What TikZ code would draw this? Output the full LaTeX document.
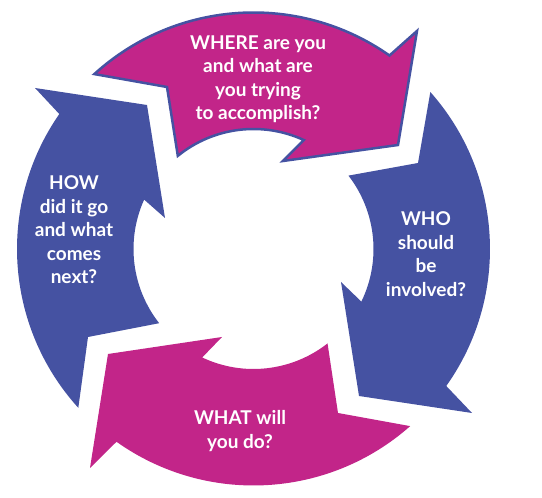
\documentclass[tikz,border=0pt]{standalone}
\usepackage{fontspec}
\setmainfont{Lato}
\usepackage{tikz}
\definecolor{loopM}{RGB}{194,37,137}
\definecolor{loopB}{RGB}{69,82,162}

\begin{document}
\begin{tikzpicture}[x=1pt, y=1pt, font=\fontsize{19}{23.5}\selectfont\bfseries,
    qtext/.style={text=white, align=center, inner sep=0pt}]
  \useasboundingbox (0,0) rectangle (542,498);
  \begin{scope}[shift={(253.5,249)}]
  % top band, outlined
  \filldraw[fill=loopM, draw=loopB, line width=2.5pt]
    (132.3:236.5) -- (-86.5,162) -- (129.1:120)
    arc[start angle=129.1, end angle=65.2, radius=120]
    -- (29.5,88) -- (144.5,104) -- (163.5,218) -- (54.9:236.5)
    arc[start angle=54.9, end angle=132.3, radius=236.5] -- cycle;
  % right band
  \fill[loopB]
    (41.6:236.5) -- (164.5,86) -- (37.7:120)
    arc[start angle=37.7, end angle=-26, radius=120]
    -- (87.5,-33) -- (105.5,-147) -- (218.5,-164) -- (-35.4:236.5)
    arc[start angle=-35.4, end angle=41.6, radius=236.5] -- cycle;
  % bottom band
  \fill[loopM]
    (-48.5:236.5) -- (84.5,-164) -- (-51.9:120)
    arc[start angle=-51.9, end angle=-115.3, radius=120]
    -- (-31.5,-88) -- (-145.5,-105) -- (-163.5,-219) -- (-125.4:236.5)
    arc[start angle=-125.4, end angle=-48.5, radius=236.5] -- cycle;
  % left band
  \fill[loopB]
    (222.2:236.5) -- (-165.5,-88) -- (218.2:120)
    arc[start angle=218.2, end angle=155.7, radius=120]
    -- (-88.5,31) -- (-106.5,144) -- (-218.5,161) -- (145.2:236.5)
    arc[start angle=145.2, end angle=222.2, radius=236.5] -- cycle;
  % questions
  \node[qtext] (where) at (4.5,170) {WHERE are you\\ and what are\\ you trying\\ to accomplish?};
  \node[qtext] (who) at (172.5,-5) {WHO\\ should\\ be\\ involved?};
  \node[qtext] (what) at (-13.5,-182) {WHAT will\\ you do?};
  \node[qtext] (how) at (-179.5,19) {HOW\\ did it go\\ and what\\ comes\\ next?};
  \end{scope}
\end{tikzpicture}
\end{document}
